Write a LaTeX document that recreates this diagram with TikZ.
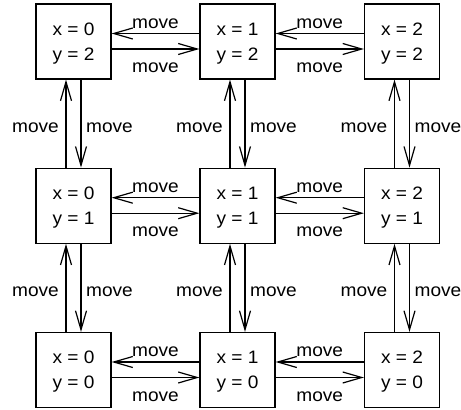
\documentclass[tikz,border=0pt]{standalone}
\usepackage{fontspec}
\setmainfont{Liberation Sans}[FakeStretch=1.06]
\usetikzlibrary{arrows.meta}
\begin{document}
\begin{tikzpicture}[x=1pt,y=-1pt,
  state/.style={draw, line width=1.2pt, minimum width=75pt, minimum height=75pt,
    inner sep=0pt, align=center, font=\fontsize{18}{25}\selectfont, text depth=0pt},
  arr/.style={line width=1.2pt, -{Straight Barb[length=19pt,width=11pt]}},
  lbl/.style={font=\fontsize{18}{22}\selectfont, inner sep=0pt}]
\useasboundingbox (0,0) rectangle (461,410);
% states
\foreach \i/\cx in {0/73.5,1/237.5,2/402}{
  \foreach \j/\cy in {2/41.5,1/205.7,0/370}{
    \node[state] (s\i\j) at (\cx,\cy) {x = \i\\y = \j};
  }
}
% horizontal transitions
\foreach \j in {0,1,2}{
  \foreach \a/\b in {0/1,1/2}{
    \draw[arr] ([yshift=8pt]s\b\j.west) -- ([yshift=8pt]s\a\j.east)
      node[lbl, midway, yshift=10pt] (hu\a\j) {move};
    \draw[arr] ([yshift=-7.5pt]s\a\j.east) -- ([yshift=-7.5pt]s\b\j.west)
      node[lbl, midway, yshift=-19pt] (hd\a\j) {move};
  }
}
% vertical transitions
\foreach \i in {0,1,2}{
  \foreach \a/\b in {1/2,0/1}{
    \draw[arr] ([xshift=-7.5pt]s\i\a.north) -- ([xshift=-7.5pt]s\i\b.south)
      node[lbl, midway, xshift=-30.5pt, yshift=-4pt] (vu\i\a) {move};
    \draw[arr] ([xshift=7.5pt]s\i\b.south) -- ([xshift=7.5pt]s\i\a.north)
      node[lbl, midway, xshift=28.5pt, yshift=-4pt] (vd\i\a) {move};
  }
}
\end{tikzpicture}
\end{document}
